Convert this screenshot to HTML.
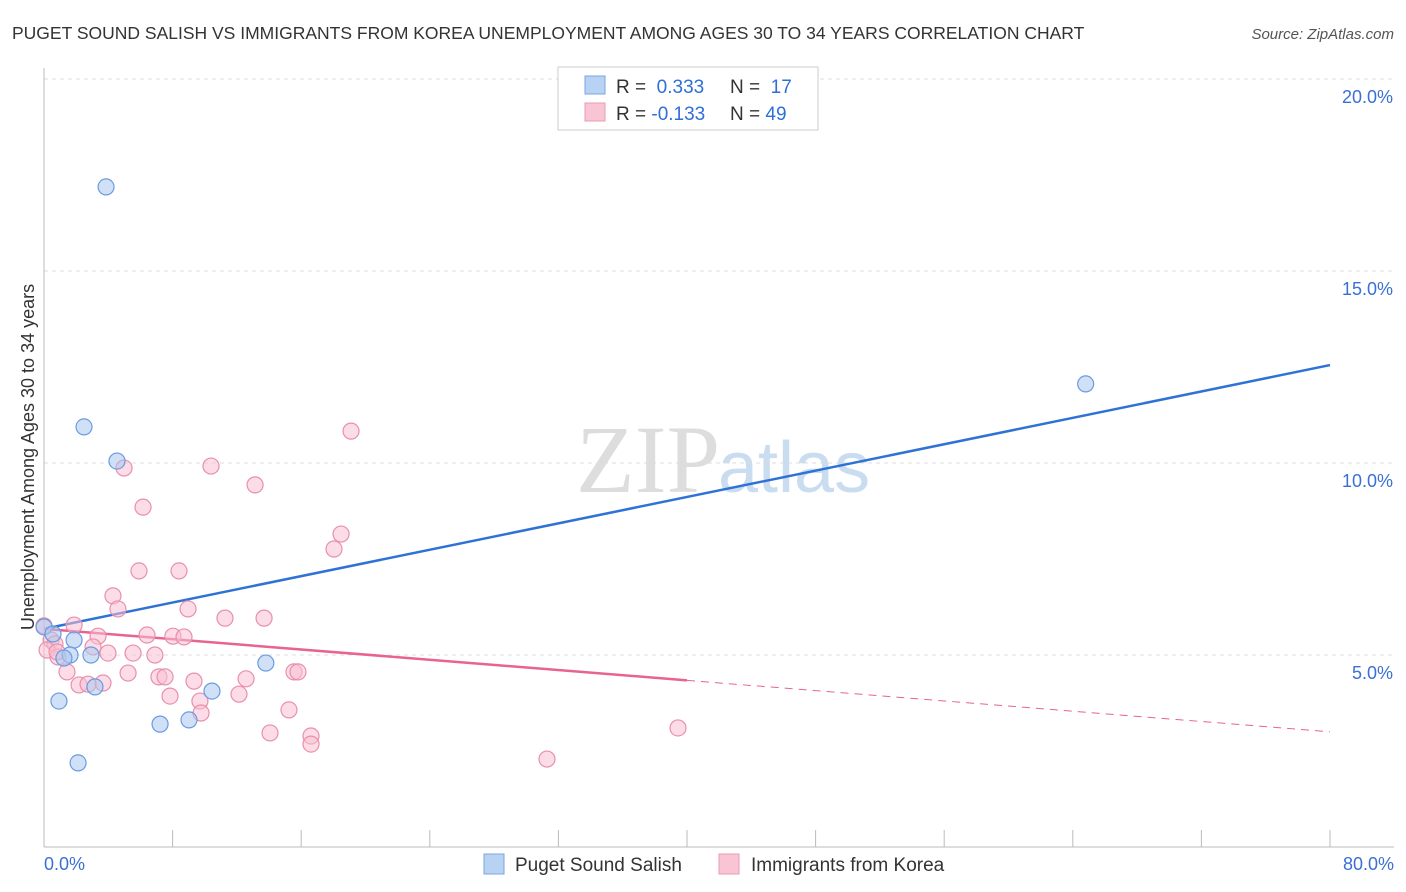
<!DOCTYPE html>
<html><head><meta charset="utf-8"><style>
body{margin:0;background:#fff;font-family:"Liberation Sans",sans-serif;}
svg{display:block}
</style></head><body>
<svg id="chart" width="1406" height="892">
<text x="12" y="39" font-size="17.5" fill="#333">PUGET SOUND SALISH VS IMMIGRANTS FROM KOREA UNEMPLOYMENT AMONG AGES 30 TO 34 YEARS CORRELATION CHART</text>
<text x="1394" y="39" font-size="15" fill="#555" font-style="italic" text-anchor="end">Source: ZipAtlas.com</text>
<text x="720" y="492" font-size="96" font-family="Liberation Serif,serif" fill="#ddd" text-anchor="end">ZIP</text>
<text x="718" y="492" font-size="72" fill="#c9dcf0">atlas</text>
<g id="grid"></g><g id="axes"></g><g id="lines"></g><g id="pts"></g>
<text transform="translate(34,457) rotate(-90)" font-size="18" fill="#333" text-anchor="middle">Unemployment Among Ages 30 to 34 years</text>
<g>
<rect x="558" y="67" width="260" height="63" fill="#fff" stroke="#ccc"/>
<rect x="585" y="76" width="20" height="18" fill="#b8d2f4" stroke="#7aa5e0"/>
<rect x="585" y="103" width="20" height="18" fill="#f9c5d5" stroke="#eb9ab4"/>
<text x="616" y="93" font-size="19" fill="#333">R = <tspan fill="#2f6fd6">&#160;0.333</tspan></text>
<text x="730" y="93" font-size="19" fill="#333">N = <tspan fill="#2f6fd6">&#160;17</tspan></text>
<text x="616" y="120" font-size="19" fill="#333">R = <tspan fill="#2f6fd6">-0.133</tspan></text>
<text x="730" y="120" font-size="19" fill="#333">N = <tspan fill="#2f6fd6">49</tspan></text>
</g>
<g>
<rect x="484" y="854" width="20" height="20" fill="#b8d2f4" stroke="#7aa5e0"/>
<text x="515" y="871" font-size="19" fill="#333">Puget Sound Salish</text>
<rect x="719" y="854" width="20" height="20" fill="#f9c5d5" stroke="#eb9ab4"/>
<text x="751" y="871" font-size="19" fill="#333">Immigrants from Korea</text>
</g>
</svg>
<script>
const blueX=[3.86,2.49,4.54,64.8,0,0.56,1.87,1.62,2.92,1.24,3.17,0.93,13.8,10.45,7.22,9.02,2.12];
const blueY=[17.19,10.94,10.05,12.06,5.73,5.55,5.39,5.0,5.0,4.92,4.17,3.8,4.79,4.06,3.2,3.31,2.19];
const pinkX=[4.98,10.39,13.13,19.1,6.16,18.48,18.04,5.91,8.4,4.29,4.6,8.96,11.26,13.69,1.87,0,0.44,3.36,6.41,8.02,8.71,0.68,3.05,3.98,5.54,6.9,0.19,0.87,1.43,5.23,7.15,7.53,15.55,15.8,2.18,3.67,2.74,9.33,12.57,7.84,12.13,9.7,9.77,15.24,14.06,16.61,16.61,39.44,31.29,0.81];
const pinkY=[9.87,9.92,9.43,10.83,8.85,8.15,7.76,7.19,7.19,6.54,6.2,6.2,5.96,5.96,5.78,5.76,5.39,5.49,5.52,5.49,5.47,5.29,5.21,5.05,5.05,5.0,5.13,4.95,4.56,4.53,4.43,4.43,4.56,4.56,4.22,4.27,4.24,4.32,4.38,3.93,3.98,3.8,3.49,3.57,2.97,2.89,2.68,3.1,2.29,5.08];
const blueTrend=[5.68,12.55];
const pinkTrend=[5.68,3.0];
const yTicks=[5,10,15,20];
const xTickLabels=["0.0%","80.0%"];
const NS="http://www.w3.org/2000/svg";
const sx=v=>44+v*16.075, sy=v=>847-v*38.4;
function mk(tag,attrs,parent){const e=document.createElementNS(NS,tag);for(const k in attrs)e.setAttribute(k,attrs[k]);document.getElementById(parent).appendChild(e);return e;}
yTicks.forEach(t=>{
 const l=mk('line',{x1:44,x2:1394,y1:sy(t),y2:sy(t),stroke:'#ddd','stroke-dasharray':'4,4'},'grid');
 
 
 const tx=mk('text',{x:1393,y:sy(t)+24,'font-size':18,fill:'#3b6fd4','text-anchor':'end'},'grid');
 tx.textContent=t.toFixed(1)+'%';
 
 
});
const xa=mk('line',{x1:44,x2:1394,y1:847,y2:847,stroke:'#bbb'},'axes');


const ya=mk('line',{x1:44,x2:44,y1:68,y2:847,stroke:'#bbb'},'axes');


for(let i=0;i<=10;i++){
 const t=mk('line',{x1:sx(i*8),x2:sx(i*8),y1:830,y2:847,stroke:'#bbb'},'axes');
 
 
}
[[0,'start',44],[80,'end',1394]].forEach((d,i)=>{
 const t=mk('text',{x:d[2],y:870,'font-size':18,fill:'#3b6fd4','text-anchor':d[1]},'axes');
 t.textContent=xTickLabels[i];
 
 
});
function dots(xs,ys,fill,stroke,name){xs.forEach((x,i)=>{
 const c=mk('circle',{cx:sx(x),cy:sy(ys[i]),r:8,fill:fill,'fill-opacity':0.55,stroke:stroke,'stroke-width':1.2},'pts');
 
 
});}
dots(pinkX,pinkY,'#f9c0d2','#e890ab','korea-point');
dots(blueX,blueY,'#a9c8f0','#6a9be0','salish-point');
const bl=mk('line',{x1:sx(0),y1:sy(blueTrend[0]),x2:sx(80),y2:sy(blueTrend[1]),stroke:'#2f72d6','stroke-width':2.5},'lines');


const pm=(pinkTrend[0]+pinkTrend[1])/2;
const pl=mk('line',{x1:sx(0),y1:sy(pinkTrend[0]),x2:sx(40),y2:sy(pm),stroke:'#e8638f','stroke-width':2.5},'lines');


const pd=mk('line',{x1:sx(40),y1:sy(pm),x2:sx(80),y2:sy(pinkTrend[1]),stroke:'#e8638f','stroke-width':1,'stroke-dasharray':'8,6'},'lines');


</script>
</body></html>
